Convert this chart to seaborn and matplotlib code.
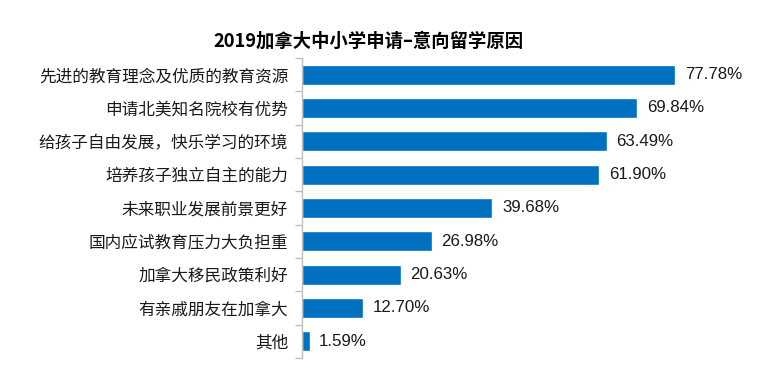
import matplotlib
matplotlib.use("Agg")
import matplotlib.pyplot as plt
import seaborn as sns
import pandas as pd
import numpy as np

categories = ["先进的教育理念及优质的教育资源", "申请北美知名院校有优势", "给孩子自由发展，快乐学习的环境",
              "培养孩子独立自主的能力", "未来职业发展前景更好", "国内应试教育压力大负担重",
              "加拿大移民政策利好", "有亲戚朋友在加拿大", "其他"]
values = [77.78, 69.84, 63.49, 61.90, 39.68, 26.98, 20.63, 12.70, 1.59]
value_labels = ["77.78%", "69.84%", "63.49%", "61.90%", "39.68%", "26.98%", "20.63%", "12.70%", "1.59%"]
title = "2019加拿大中小学申请–意向留学原因"

sns.set_theme(style="white")
plt.rcParams['font.family'] = ['Noto Sans CJK SC', 'DejaVu Sans']

df = pd.DataFrame({"cat": categories, "val": values})
fig = plt.figure(figsize=(7.58, 3.68), dpi=100)
ax = fig.add_axes([302/758, 10/368, 1 - 302/758, 300/368])
sns.barplot(data=df, x="val", y="cat", orient="h", color="#0070C0", width=0.6,
            saturation=1, ax=ax)
ax.set_xlim(0, 95)
ax.set_ylim(len(categories) - 0.5, -0.5)
for s in ["top", "right", "bottom"]:
    ax.spines[s].set_visible(False)
ax.spines["left"].set_color("#bfbfbf")
ax.spines["left"].set_linewidth(1)
ax.set_xticks([])
ax.set_xlabel("")
ax.set_ylabel("")
ax.set_yticks(range(len(categories)))
ax.set_yticklabels(categories, fontsize=12, color="#1a1a1a")
ax.tick_params(axis="y", length=0, pad=10)
ax.set_yticks(np.arange(-0.5, len(categories), 1), minor=True)
ax.tick_params(axis="y", which="minor", length=5, color="#bfbfbf", width=1, left=True)

for i, (v, lab) in enumerate(zip(values, value_labels)):
    ax.text(v + 2.0, i, lab, va="center", ha="left", fontsize=12.2,
            family=["Liberation Sans", "DejaVu Sans"], color="#1a1a1a")

fig.text(368/758, 1 - 41/368, title, ha="center", va="center", fontsize=13.2,
         fontweight="bold", color="black")

fig.savefig("out.png", dpi=100, facecolor="white")
